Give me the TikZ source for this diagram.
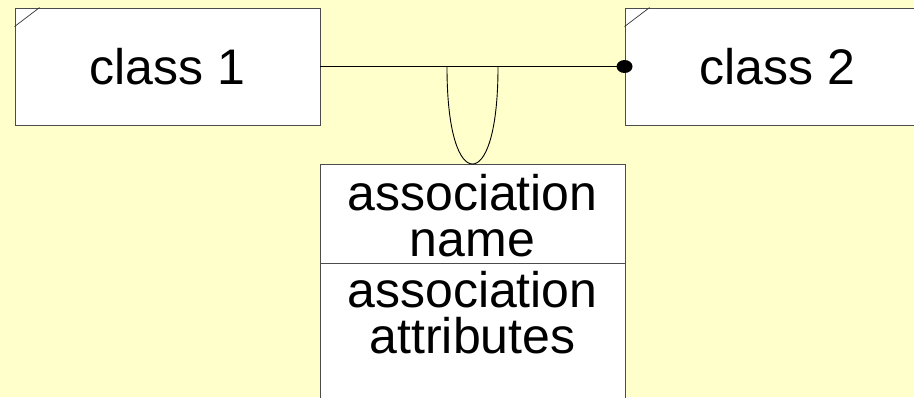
\documentclass[tikz,border=0pt]{standalone}
\usepackage{fontspec}
\setmainfont{Liberation Sans}
\begin{document}
\begin{tikzpicture}[x=1pt,y=-1pt,
  box/.style={draw=black!70, line width=0.9pt, fill=white, rectangle, inner sep=0pt},
  lbl/.style={font=\fontsize{50}{46}\selectfont, align=center, inner sep=0pt},
  conn/.style={draw=black, line width=0.9pt}]
\useasboundingbox (0,0) rectangle (914,397);
\clip (0,0) rectangle (914,397);
\fill[fill={rgb,255:red,255;green,255;blue,204}] (0,0) rectangle (914,397);
% class boxes
\node[box, minimum width=305pt, minimum height=117pt] (c1) at (167.5,66.5) {};
\node[box, minimum width=305pt, minimum height=117pt] (c2) at (777.5,66.5) {};
\draw[black!80, line width=0.7pt] ([yshift=-19pt]c1.north west) -- ([xshift=25pt]c1.north west);
\draw[black!80, line width=0.7pt] ([yshift=-19pt]c2.north west) -- ([xshift=25pt]c2.north west);
\node[lbl] at (c1.center) {class 1};
\node[lbl] at (c2.center) {class 2};
% association class box
\node[box, minimum width=305pt, minimum height=260pt, anchor=north] (ac) at (472.5,164) {};
\coordinate (div) at (472.5,263);
\draw[black!70, line width=0.9pt] (ac.west |- div) -- (ac.east |- div);
\node[lbl] (an) at (472.5,216) {association\\name};
\node[lbl] (aa) at (472.5,313) {association\\attributes};
% association line
\draw[conn] (c1.east) -- (c2.west);
\fill (c2.west) ellipse (8pt and 6.5pt);
\coordinate (l1) at (447,67);
\coordinate (l2) at (498,67);
\draw[conn] (l1) .. controls (447,135) and (460,164) .. (ac.north) .. controls (485,164) and (498,135) .. (l2);
\end{tikzpicture}
\end{document}
